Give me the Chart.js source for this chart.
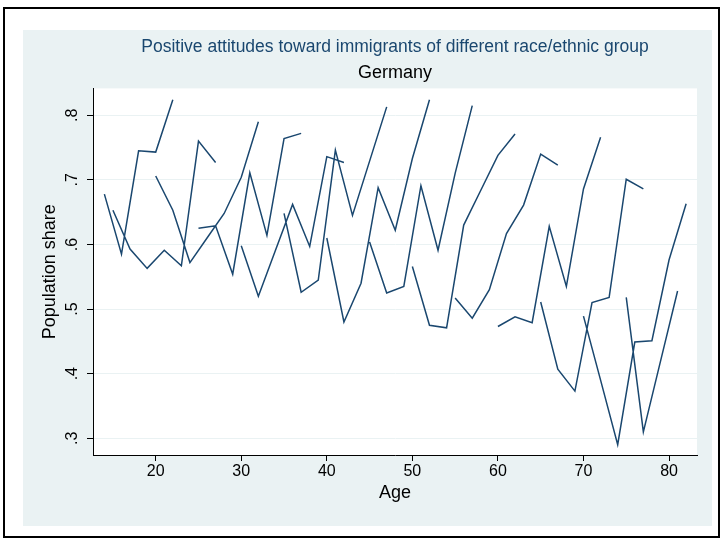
<!DOCTYPE html>
<html>
<head>
<meta charset="utf-8">
<script src="https://cdn.jsdelivr.net/npm/chart.js@4.4.1/dist/chart.umd.min.js"></script>
<style>
  body { margin: 0; background: #fff; }
  canvas { display: block; }
</style>
</head>
<body>
<canvas id="mycanvas" width="723" height="541"></canvas>
<script>
// one row per cohort and survey wave, in data order (cohort, then wave)
var age = [
  14, 16, 18, 20, 22,
  15, 17, 19, 21, 23, 25, 27,
  20, 22, 24, 26, 28, 30, 32,
  25, 27, 29, 31, 33, 35, 37,
  30, 32, 34, 36, 38, 40, 42,
  35, 37, 39, 41, 43, 45, 47,
  40, 42, 44, 46, 48, 50, 52,
  45, 47, 49, 51, 53, 55, 57,
  50, 52, 54, 56, 58, 60, 62,
  55, 57, 59, 61, 63, 65, 67,
  60, 62, 64, 66, 68, 70, 72,
  65, 67, 69, 71, 73, 75, 77,
  70, 72, 74, 76, 78, 80, 82,
  75, 77, 79, 81
];
var share = [
  .678, .585, .745, .743, .824,
  .653, .593, .563, .591, .567, .760, .727,
  .706, .653, .572, .610, .648, .704, .790,
  .625, .629, .554, .711, .614, .764, .772,
  .598, .520, .591, .662, .597, .736, .727,
  .648, .526, .545, .746, .645, .729, .813,
  .610, .480, .540, .688, .622, .733, .824,
  .604, .525, .535, .691, .591, .710, .815,
  .566, .475, .471, .630, .684, .738, .771,
  .517, .486, .530, .617, .661, .740, .723,
  .473, .488, .479, .628, .535, .686, .766,
  .511, .407, .373, .510, .518, .701, .686,
  .489, .390, .290, .449, .451, .576, .663,
  .518, .310, .419, .528
];
var xTicks = [20, 30, 40, 50, 60, 70, 80];
var yTicks = [.3, .4, .5, .6, .7, .8];

var titleText = 'Positive attitudes toward immigrants of different race/ethnic group';
var subtitleText = 'Germany';
var fontFam = '"Liberation Sans", Arial, Helvetica, sans-serif';

// connect only while age goes up (like Stata's connect(L))
var points = [];
for (var i = 0; i < age.length; i++) {
  if (i > 0 && age[i] <= age[i - 1]) {
    points.push({x: age[i - 1], y: null});
  }
  points.push({x: age[i], y: share[i]});
}

var backdrop = {
  id: 'backdrop',
  beforeDraw: function(chart) {
    var c = chart.ctx, a = chart.chartArea;
    c.save();
    c.fillStyle = '#ffffff';
    c.fillRect(0, 0, chart.width, chart.height);
    c.strokeStyle = '#000000';
    c.lineWidth = 2;
    c.strokeRect(4, 8, 715, 529);
    c.fillStyle = '#eaf2f3';
    c.fillRect(23, 30, 689, 496);
    c.fillStyle = '#ffffff';
    c.fillRect(a.left, a.top, a.right - a.left, a.bottom - a.top);
    c.restore();
  }
};

var ctx = document.getElementById('mycanvas');

var lineGraph = new Chart(ctx, {
  type: 'line',
  data: {
    datasets: [{
      data: points,
      borderColor: '#1a476f',
      borderWidth: 1.5,
      pointRadius: 0,
      spanGaps: false,
      tension: 0
    }]
  },
  options: {
    responsive: false,
    animation: false,
    layout: { padding: { left: 23, right: 26, top: 30, bottom: 16 } },
    plugins: {
      legend: { display: false },
      tooltip: { enabled: false },
      title: {
        display: true,
        text: titleText,
        color: '#1a476f',
        fullSize: false,
        font: { family: fontFam, size: 17.5, weight: 'normal' },
        padding: { top: 7, bottom: 0 }
      },
      subtitle: {
        display: true,
        text: subtitleText,
        color: '#000000',
        fullSize: false,
        font: { family: fontFam, size: 18, weight: 'normal' },
        padding: { top: 4.2, bottom: 4.6 }
      }
    },
    scales: {
      x: {
        type: 'linear',
        min: 12.67,
        max: 83.27,
        afterBuildTicks: function(s) { s.ticks = xTicks.map(function(v) { return {value: v}; }); },
        afterFit: function(s) { s.height = 70; },
        ticks: {
          color: '#000',
          padding: 1,
          maxRotation: 0,
          font: { family: fontFam, size: 16 }
        },
        grid: { drawOnChartArea: false, tickLength: 6, tickColor: '#000' },
        border: { color: '#000', width: 1 },
        title: {
          display: true,
          text: 'Age',
          color: '#000',
          font: { family: fontFam, size: 18 },
          padding: { top: 0, bottom: 21 }
        }
      },
      y: {
        type: 'linear',
        min: 0.2741,
        max: 0.8416,
        afterBuildTicks: function(s) { s.ticks = yTicks.map(function(v) { return {value: v}; }); },
        afterFit: function(s) { s.width = 70; },
        ticks: {
          color: '#000',
          padding: 8,
          minRotation: 90,
          maxRotation: 90,
          crossAlign: 'center',
          font: { family: fontFam, size: 16 },
          callback: function(v) { return v.toFixed(1).replace(/^0/, ''); }
        },
        grid: { color: '#eaf2f3', lineWidth: 1, tickLength: 6, tickColor: '#000' },
        border: { color: '#000', width: 1 },
        title: {
          display: true,
          text: 'Population share',
          color: '#000',
          font: { family: fontFam, size: 18 },
          padding: { top: 16, bottom: 0 }
        }
      }
    }
  },
  plugins: [backdrop]
});
</script>
</body>
</html>
